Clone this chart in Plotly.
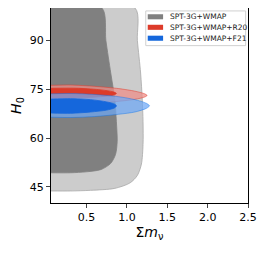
import plotly.graph_objects as go

# Contour boundaries (Sum m_nu, H0)
gray2_x = [0.06, 1.10, 1.13, 1.17, 1.19, 1.20, 1.20, 1.18, 1.13, 1.04, 0.85, 0.55, 0.30, 0.06]
gray2_y = [100.0, 100.0, 90.0, 80.0, 72.0, 65.0, 58.0, 52.0, 48.5, 46.2, 44.5, 43.9, 43.7, 43.7]
gray1_x = [0.06, 0.69, 0.74, 0.80, 0.85, 0.87, 0.88, 0.86, 0.80, 0.68, 0.50, 0.30, 0.06]
gray1_y = [100.0, 100.0, 90.0, 80.0, 72.0, 65.0, 59.0, 55.0, 52.2, 50.3, 49.6, 49.3, 49.3]

r20_2_x = [0.06, 0.30, 0.60, 0.90, 1.10, 1.22, 1.25, 1.22, 1.10, 0.90, 0.60, 0.30, 0.06]
r20_2_y = [76.2, 76.3, 75.9, 75.2, 74.4, 73.6, 73.1, 72.6, 71.9, 71.3, 70.7, 70.4, 70.4]
r20_1_x = [0.06, 0.40, 0.68, 0.83, 0.87, 0.83, 0.62, 0.30, 0.06]
r20_1_y = [75.3, 75.3, 74.8, 74.2, 73.7, 73.2, 72.6, 72.3, 72.3]

f21_2_x = [0.06, 0.30, 0.60, 0.90, 1.10, 1.24, 1.28, 1.24, 1.10, 0.90, 0.60, 0.30, 0.06]
f21_2_y = [73.6, 73.7, 73.4, 72.7, 71.8, 70.7, 69.9, 69.1, 68.0, 67.3, 66.6, 66.3, 66.4]
f21_1_x = [0.06, 0.30, 0.55, 0.75, 0.85, 0.87, 0.85, 0.75, 0.55, 0.30, 0.06]
f21_1_y = [72.0, 72.1, 71.8, 71.1, 70.4, 69.9, 69.3, 68.6, 68.0, 67.6, 67.7]

labels = ["SPT-3G+WMAP", "SPT-3G+WMAP+R20", "SPT-3G+WMAP+F21"]
legend_colors = ["#808080", "#dd3b2a", "#1567dc"]
x_ticks = [0.5, 1.0, 1.5, 2.0, 2.5]
y_ticks = [45, 60, 75, 90]

fig = go.Figure()

def add(x, y, fill, line):
    fig.add_trace(go.Scatter(
        x=x, y=y, mode="lines", fill="toself", fillcolor=fill,
        line=dict(color=line, width=0.8, shape="spline", smoothing=0.8),
        showlegend=False, hoverinfo="skip"))

add(gray2_x, gray2_y, "#cccccc", "#a8a8a8")
add(gray1_x, gray1_y, "#808080", "#808080")
add(r20_2_x, r20_2_y, "rgba(238,140,135,0.72)", "rgba(224,52,36,0.6)")
add(r20_1_x, r20_1_y, "#dd3b2a", "#dd3b2a")
add(f21_2_x, f21_2_y, "rgba(110,168,245,0.72)", "rgba(0,111,237,0.5)")
add(f21_1_x, f21_1_y, "#1567dc", "#1567dc")

# hand-built compact legend (matplotlib style) in axis-domain coordinates
shapes = [dict(type="rect", xref="x domain", yref="y domain",
               x0=0.481, x1=0.988, y0=0.807, y1=0.985,
               line=dict(color="#d0d0d0", width=1), fillcolor="white", layer="above")]
annotations = []
rows = [0.955, 0.901, 0.845]
for lab, col, yc in zip(labels, legend_colors, rows):
    shapes.append(dict(type="rect", xref="x domain", yref="y domain",
                       x0=0.491, x1=0.569, y0=yc - 0.013, y1=yc + 0.013,
                       line=dict(width=0), fillcolor=col, layer="above"))
    annotations.append(dict(xref="x domain", yref="y domain", x=0.592, y=yc,
                            xanchor="left", yanchor="middle", showarrow=False,
                            text=lab, font=dict(size=7.5, color="#222222")))

# page body has an 8px default margin, so figure is 258x248 offset by 8px
fig.update_layout(
    width=258, height=248,
    margin=dict(l=43, r=18, t=0, b=53, autoexpand=False),
    paper_bgcolor="white", plot_bgcolor="white",
    font=dict(family="DejaVu Sans", size=11, color="black"),
    showlegend=False,
    shapes=shapes, annotations=annotations,
    xaxis=dict(range=[0.06, 2.5], tickvals=x_ticks, ticktext=[f"{v:.1f}" for v in x_ticks],
               showgrid=False, zeroline=False, showline=True, linecolor="black",
               linewidth=1, mirror=True, ticks="outside", ticklen=4,
               title=dict(text="Σ<i>m</i><sub>ν</sub>", font=dict(size=14), standoff=3)),
    yaxis=dict(range=[40, 100], tickvals=y_ticks,
               showgrid=False, zeroline=False, showline=True, linecolor="black",
               linewidth=1, mirror=True, ticks="outside", ticklen=4,
               title=dict(text="<i>H</i><sub>0</sub>", font=dict(size=14), standoff=6)),
)

fig.write_html("out.html")
